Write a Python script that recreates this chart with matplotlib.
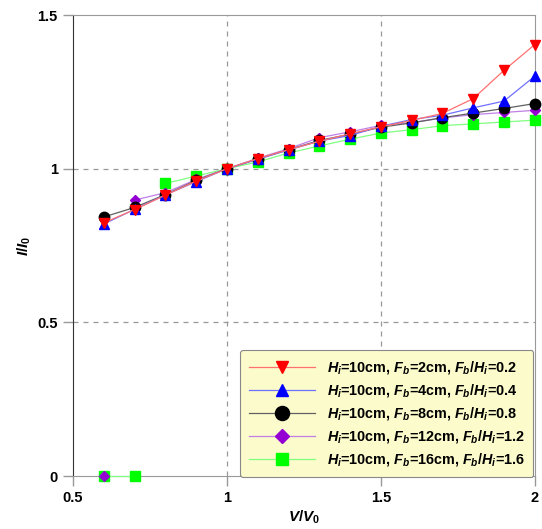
import numpy as np
import matplotlib
matplotlib.use("Agg")
import matplotlib.pyplot as plt

plt.rcParams['font.family'] = ['Liberation Sans', 'DejaVu Sans']
plt.rcParams['font.weight'] = 'bold'
plt.rcParams['mathtext.fontset'] = 'custom'
plt.rcParams['mathtext.rm'] = 'Liberation Sans:bold'
plt.rcParams['mathtext.it'] = 'Liberation Sans:italic:bold'
plt.rcParams['mathtext.bf'] = 'Liberation Sans:bold'

# V/V0 sample points
v_ratio = [0.6, 0.7, 0.8, 0.9, 1.0, 1.1, 1.2, 1.3, 1.4, 1.5, 1.6, 1.7, 1.8, 1.9, 2.0]

# I/I0 for each freeboard ratio (0 marks a run with no reading)
i_fb02 = [0.824, 0.867, 0.914, 0.960, 1.0, 1.033, 1.062, 1.089, 1.114, 1.136, 1.157, 1.180, 1.228, 1.320, 1.404]
i_fb04 = [0.820, 0.868, 0.915, 0.958, 1.0, 1.031, 1.061, 1.090, 1.108, 1.138, 1.160, 1.174, 1.198, 1.220, 1.301]
i_fb08 = [0.843, 0.874, 0.916, 0.962, 1.0, 1.031, 1.062, 1.092, 1.112, 1.135, 1.149, 1.166, 1.181, 1.196, 1.212]
i_fb12 = [0.0, 0.898, 0.922, 0.965, 1.0, 1.034, 1.065, 1.101, 1.120, 1.141, 1.150, 1.165, 1.176, 1.183, 1.190]
i_fb16 = [0.0, 0.0, 0.952, 0.976, 1.0, 1.022, 1.051, 1.074, 1.096, 1.116, 1.127, 1.140, 1.146, 1.152, 1.158]

labels = [
    r"$H_i$=10cm, $F_b$=2cm, $F_b/H_i$=0.2",
    r"$H_i$=10cm, $F_b$=4cm, $F_b/H_i$=0.4",
    r"$H_i$=10cm, $F_b$=8cm, $F_b/H_i$=0.8",
    r"$H_i$=10cm, $F_b$=12cm, $F_b/H_i$=1.2",
    r"$H_i$=10cm, $F_b$=16cm, $F_b/H_i$=1.6",
]
series = [i_fb02, i_fb04, i_fb08, i_fb12, i_fb16]
markers = ['v', '^', 'o', 'D', 's']
msizes = [6.8, 6.8, 7.5, 5.5, 6.5]
mcolors = ['#ff0000', '#0000ff', '#000000', '#9400d3', '#00ff00']
lcolors = ['#ff7070', '#7070ff', '#606060', '#c080e8', '#80ff80']

fig = plt.figure(figsize=(5.42, 5.29), dpi=100)
ax = fig.add_axes([0.1347, 0.100, 0.852, 0.8716])

x = np.array(v_ratio)
handles = []
for k in reversed(range(len(series))):
    y = np.array(series[k])
    z = 10 - k
    # split into runs of zero / non-zero values so they are drawn as separate segments
    is_zero = y == 0
    start = 0
    for i in range(1, len(y) + 1):
        if i == len(y) or is_zero[i] != is_zero[start]:
            ax.plot(x[start:i], y[start:i], color=lcolors[k], lw=0.9,
                    marker=markers[k], ms=msizes[k], mfc=mcolors[k],
                    mec=mcolors[k], clip_on=False, zorder=z)
            start = i
    h, = ax.plot([], [], color=lcolors[k], lw=0.9, marker=markers[k],
                 ms=msizes[k], mfc=mcolors[k], mec=mcolors[k], label=labels[k])
    handles.append(h)
handles = handles[::-1]

ax.set_xlim(0.5, 2.0)
ax.set_ylim(0, 1.5)
ax.set_xticks([0.5, 1, 1.5, 2])
ax.set_xticklabels(['0.5', '1', '1.5', '2'])
ax.set_yticks([0, 0.5, 1, 1.5])
ax.set_yticklabels(['0', '0.5', '1', '1.5'])
ax.tick_params(direction='out', length=7, width=1, color='#999999',
               labelsize=10.5, pad=4)
for t in ax.get_xticklabels() + ax.get_yticklabels():
    t.set_fontweight('bold')

for x_g in [1, 1.5]:
    ax.axvline(x_g, color='#999999', lw=0.9, ls=(0, (4, 4)), zorder=0)
for y_g in [0.5, 1]:
    ax.axhline(y_g, color='#999999', lw=0.9, ls=(0, (4, 4)), zorder=0)

for s in ['top', 'right', 'bottom']:
    ax.spines[s].set_color('#999999')
ax.spines['left'].set_color('#333333')

ax.set_xlabel(r"$V/V_0$", fontsize=11, labelpad=2)
ax.set_ylabel(r"$I/I_0$", fontsize=11, labelpad=3)

leg = ax.legend(handles=handles, loc='lower right', bbox_to_anchor=(0.997, -0.002),
                borderaxespad=0, fontsize=10.4, markerscale=1.35, handlelength=4.6,
                labelspacing=0.42, fancybox=True, framealpha=1,
                facecolor='#fcfbcc', edgecolor='#888888', borderpad=0.6,
                handletextpad=0.8)
leg.get_frame().set_linewidth(0.8)
leg.set_zorder(20)

fig.savefig("out.png", dpi=100)
